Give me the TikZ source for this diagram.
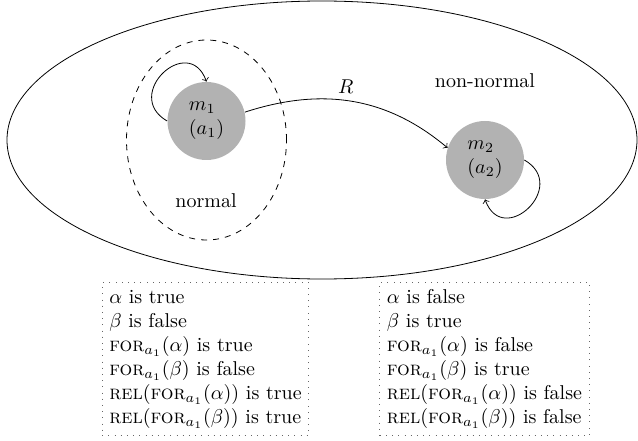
\documentclass[tikz,border=0pt]{standalone}
\begin{document}
\begin{tikzpicture}[x=0.5pt,y=0.5pt,>=to,
  state/.style={circle,fill=gray!60,minimum size=39pt,inner sep=0pt,align=left},
  infobox/.style={draw=black!60,dash pattern=on 0.4pt off 2.7pt,align=left,inner sep=3.6pt}]
\useasboundingbox (0,0) rectangle (638,440);
% regions
\draw (322,300) ellipse [x radius=315, y radius=139];
\draw[dashed] (206.5,300) ellipse [x radius=80, y radius=100];
% worlds
\node[state] (m1) at (206.5,319) {$m_1$\\$(a_1)$};
\node[state] (m2) at (485,280) {$m_2$\\$(a_2)$};
\node (normal) at (206,239) {normal};
\node (nonnormal) at (485,359) {non-normal};
% relations
\draw[->] (m1.13) to[out=18,in=140] node[above,pos=0.47] (R) {$R$} (m2.162);
\draw[->] (m1.180) to[out=150,in=110,looseness=2.4] (m1.90);
\draw[->] (m2.0) to[out=-30,in=-70,looseness=2.4] (m2.270);
% info boxes
\node[infobox] (left) at (205.5,81) {$\alpha$ is true\\
$\beta$ is false\\
$\textsc{for}_{a_1}(\alpha)$ is true\\
$\textsc{for}_{a_1}(\beta)$ is false\\
$\textsc{rel}(\textsc{for}_{a_1}(\alpha))$ is true\\
$\textsc{rel}(\textsc{for}_{a_1}(\beta))$ is true};
\node[infobox] (right) at (484.5,81) {$\alpha$ is false\\
$\beta$ is true\\
$\textsc{for}_{a_1}(\alpha)$ is false\\
$\textsc{for}_{a_1}(\beta)$ is true\\
$\textsc{rel}(\textsc{for}_{a_1}(\alpha))$ is false\\
$\textsc{rel}(\textsc{for}_{a_1}(\beta))$ is false};
\end{tikzpicture}
\end{document}
